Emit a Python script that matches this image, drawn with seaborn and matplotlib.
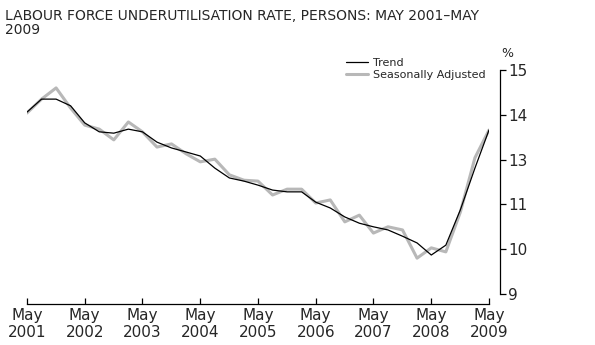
import numpy as np
import pandas as pd
import matplotlib
matplotlib.use("Agg")
import matplotlib.pyplot as plt
import seaborn as sns

# ---- data (quarterly, May 2001 - May 2009) ----
start_period = "2001-05-01"
n_quarters = 33
trend = [14.06, 14.35, 14.35, 14.20, 13.82, 13.62, 13.59, 13.68, 13.62,
         13.39, 13.26, 13.17, 13.08, 12.81, 12.59, 12.52, 12.43, 12.32,
         12.28, 12.28, 12.05, 11.92, 11.72, 11.58, 11.50, 11.43, 11.29,
         11.14, 10.87, 11.09, 11.88, 12.81, 13.66]
seas_adj = [14.04, 14.35, 14.60, 14.15, 13.77, 13.68, 13.44, 13.84, 13.62,
            13.28, 13.35, 13.13, 12.95, 13.01, 12.66, 12.54, 12.52, 12.21,
            12.34, 12.34, 12.03, 12.10, 11.61, 11.76, 11.36, 11.50, 11.43,
            10.80, 11.03, 10.94, 11.83, 13.04, 13.66]
ytick_vals = [10, 11, 12, 13, 14, 15]
ytick_labels = ["9", "10", "11", "13", "14", "15"]
xtick_years = list(range(2001, 2010))
series_names = ["Trend", "Seasonally Adjusted"]
title = "LABOUR FORCE UNDERUTILISATION RATE, PERSONS: MAY 2001\u2013MAY\n2009"

dates = pd.date_range(start_period, periods=n_quarters, freq="3MS")
df = pd.DataFrame({"date": dates, series_names[0]: trend, series_names[1]: seas_adj})

sns.set_theme(style="white")
plt.rcParams["font.family"] = ["DejaVu Sans"]

W, H = 595, 345
fig = plt.figure(figsize=(W / 100, H / 100), dpi=100)
left, right, top, bottom = 27, 489, 70, 294
ax = fig.add_axes([left / W, (H - bottom) / H, (right - left) / W, (bottom - top) / H])

sns.lineplot(data=df, x="date", y=series_names[1], ax=ax, color="#b8b8b8",
             linewidth=2.2, label=series_names[1])
sns.lineplot(data=df, x="date", y=series_names[0], ax=ax, color="black",
             linewidth=0.9, label=series_names[0])

ax.set_xlim(dates[0], dates[-1])
ax.set_ylim(ytick_vals[0], ytick_vals[-1])

xt = [pd.Timestamp(f"{y}-05-01") for y in xtick_years]
ax.set_xticks(xt)
ax.set_xticklabels([f"May\n{y}" for y in xtick_years], fontsize=9, linespacing=1.35)
ax.set_yticks(ytick_vals)
ax.set_yticklabels(ytick_labels, fontsize=9.5)
ax.set_xlabel("")
ax.set_ylabel("")

for s in ["top", "left"]:
    ax.spines[s].set_visible(False)
ax.spines["right"].set_position(("outward", 8))
ax.spines["bottom"].set_position(("outward", 7))
for s in ["right", "bottom"]:
    ax.spines[s].set_color("black")
    ax.spines[s].set_linewidth(0.9)

ax.yaxis.tick_right()
ax.tick_params(axis="y", direction="out", length=4, width=0.9, color="black", pad=2)
ax.tick_params(axis="x", bottom=True, direction="in", length=4, width=0.9, color="black", pad=3)

ax.text(1.0 + 18 / (right - left), 1.0 + 10 / (bottom - top), "%", transform=ax.transAxes,
        fontsize=9, ha="center", va="bottom")

handles, labels = ax.get_legend_handles_labels()
order = [labels.index(n) for n in series_names]
ax.legend([handles[i] for i in order], [labels[i] for i in order], loc="upper right",
          bbox_to_anchor=(1.0 + 2 / (right - left), 1.0 + 18 / (bottom - top)),
          frameon=False, fontsize=8, handlelength=2.0,
          handletextpad=0.4, labelspacing=0.2, borderpad=0)

fig.text(5 / W, 1 - 9 / H, title, fontsize=10, ha="left", va="top", linespacing=1.0)

fig.savefig("out.png", dpi=100)
